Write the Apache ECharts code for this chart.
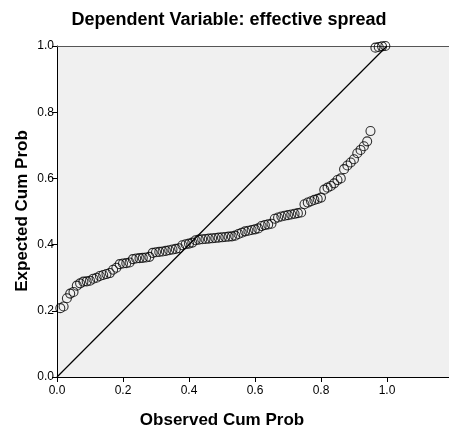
<!DOCTYPE html>
<html>
<head>
<meta charset="utf-8">
<script src="https://cdn.jsdelivr.net/npm/echarts@6/dist/echarts.min.js"></script>
<style>
  html, body { margin: 0; padding: 0; background: #fff; }
  #main { width: 449px; height: 432px; }
</style>
</head>
<body>
<div id="main"></div>
<script>
// observed cumulative probability (x) and expected cumulative probability (y)
const observedCum = [
  0.01, 0.02, 0.03, 0.04, 0.05, 0.06, 0.07, 0.08, 0.09, 0.10,
  0.11, 0.12, 0.13, 0.14, 0.15, 0.16, 0.17, 0.18, 0.19, 0.20,
  0.21, 0.22, 0.23, 0.24, 0.25, 0.26, 0.27, 0.28, 0.29, 0.30,
  0.31, 0.32, 0.33, 0.34, 0.35, 0.36, 0.37, 0.38, 0.39, 0.40,
  0.41, 0.42, 0.43, 0.44, 0.45, 0.46, 0.47, 0.48, 0.49, 0.50,
  0.51, 0.52, 0.53, 0.54, 0.55, 0.56, 0.57, 0.58, 0.59, 0.60,
  0.61, 0.62, 0.63, 0.64, 0.65, 0.66, 0.67, 0.68, 0.69, 0.70,
  0.71, 0.72, 0.73, 0.74, 0.75, 0.76, 0.77, 0.78, 0.79, 0.80,
  0.81, 0.82, 0.83, 0.84, 0.85, 0.86, 0.87, 0.88, 0.89, 0.90,
  0.91, 0.92, 0.93, 0.94, 0.95, 0.965, 0.975, 0.985, 0.995
];
const expectedCum = [
  0.208, 0.213, 0.238, 0.252, 0.257, 0.276, 0.283, 0.288, 0.289, 0.291,
  0.297, 0.300, 0.305, 0.308, 0.311, 0.314, 0.324, 0.330, 0.341, 0.343,
  0.344, 0.346, 0.356, 0.358, 0.359, 0.360, 0.361, 0.363, 0.375, 0.377,
  0.378, 0.379, 0.381, 0.383, 0.385, 0.387, 0.389, 0.398, 0.401, 0.403,
  0.406, 0.413, 0.415, 0.416, 0.417, 0.418, 0.419, 0.420, 0.421, 0.422,
  0.423, 0.424, 0.425, 0.427, 0.432, 0.436, 0.440, 0.442, 0.444, 0.446,
  0.449, 0.456, 0.459, 0.461, 0.463, 0.478, 0.482, 0.485, 0.487, 0.489,
  0.491, 0.493, 0.495, 0.497, 0.522, 0.527, 0.531, 0.535, 0.538, 0.542,
  0.566, 0.572, 0.577, 0.585, 0.595, 0.600, 0.628, 0.639, 0.648, 0.658,
  0.676, 0.686, 0.697, 0.712, 0.743, 0.995, 0.997, 0.999, 1.000
];
const tickValues = [0, 0.2, 0.4, 0.6, 0.8, 1.0];
const diagonal = [[0, 0], [1, 1]];

const points = observedCum.map((x, i) => [x, expectedCum[i]]);

const chart = echarts.init(document.getElementById('main'), null, { renderer: 'canvas' });

const labelFont = { color: '#000', fontSize: 12, fontFamily: 'Liberation Sans, Arial, sans-serif' };

const option = {
  backgroundColor: '#fff',
  animation: false,
  title: {
    text: 'Dependent Variable: effective spread',
    left: 224,
    textAlign: 'center',
    top: 6,
    textStyle: { color: '#000', fontSize: 18, fontWeight: 'bold', fontFamily: 'Liberation Sans, Arial, sans-serif' }
  },
  grid: {
    left: 57, right: 0, top: 46, bottom: 55,
    show: true, backgroundColor: '#f0f0f0', borderWidth: 0
  },
  xAxis: [{
    type: 'value',
    min: 0, max: 1.188,
    axisLine: { show: true, lineStyle: { color: '#000', width: 1 } },
    axisTick: { show: true, length: 5, customValues: tickValues, lineStyle: { color: '#000' } },
    axisLabel: Object.assign({ customValues: tickValues, margin: 8, formatter: v => v.toFixed(1) }, labelFont),
    splitLine: { show: false }
  }, {
    type: 'value',
    position: 'top',
    min: 0, max: 1.188,
    axisLine: { show: true, lineStyle: { color: '#555', width: 1 } },
    axisTick: { show: false },
    axisLabel: { show: false },
    splitLine: { show: false }
  }],
  yAxis: {
    type: 'value',
    min: 0, max: 1, interval: 0.2,
    axisLine: { show: true, lineStyle: { color: '#000', width: 1 } },
    axisTick: { show: true, length: 5, lineStyle: { color: '#000' } },
    axisLabel: Object.assign({ margin: 3, formatter: v => v.toFixed(1) }, labelFont),
    splitLine: { show: false }
  },
  graphic: [{
    type: 'text',
    x: 222, y: 420,
    style: { text: 'Observed Cum Prob', fill: '#000', align: 'center', verticalAlign: 'middle', font: 'bold 17px "Liberation Sans", Arial, sans-serif' }
  }, {
    type: 'text',
    x: 22, y: 211,
    rotation: Math.PI / 2,
    style: { text: 'Expected Cum Prob', fill: '#000', align: 'center', verticalAlign: 'middle', font: 'bold 17px "Liberation Sans", Arial, sans-serif' }
  }],
  series: [{
    type: 'line',
    data: diagonal,
    symbol: 'none',
    lineStyle: { color: '#000', width: 1.2 },
    silent: true
  }, {
    type: 'scatter',
    data: points,
    symbol: 'circle',
    symbolSize: 9,
    itemStyle: { color: 'rgba(0,0,0,0)', borderColor: '#000', borderWidth: 1.1 }
  }]
};
chart.setOption(option);
</script>
</body>
</html>
